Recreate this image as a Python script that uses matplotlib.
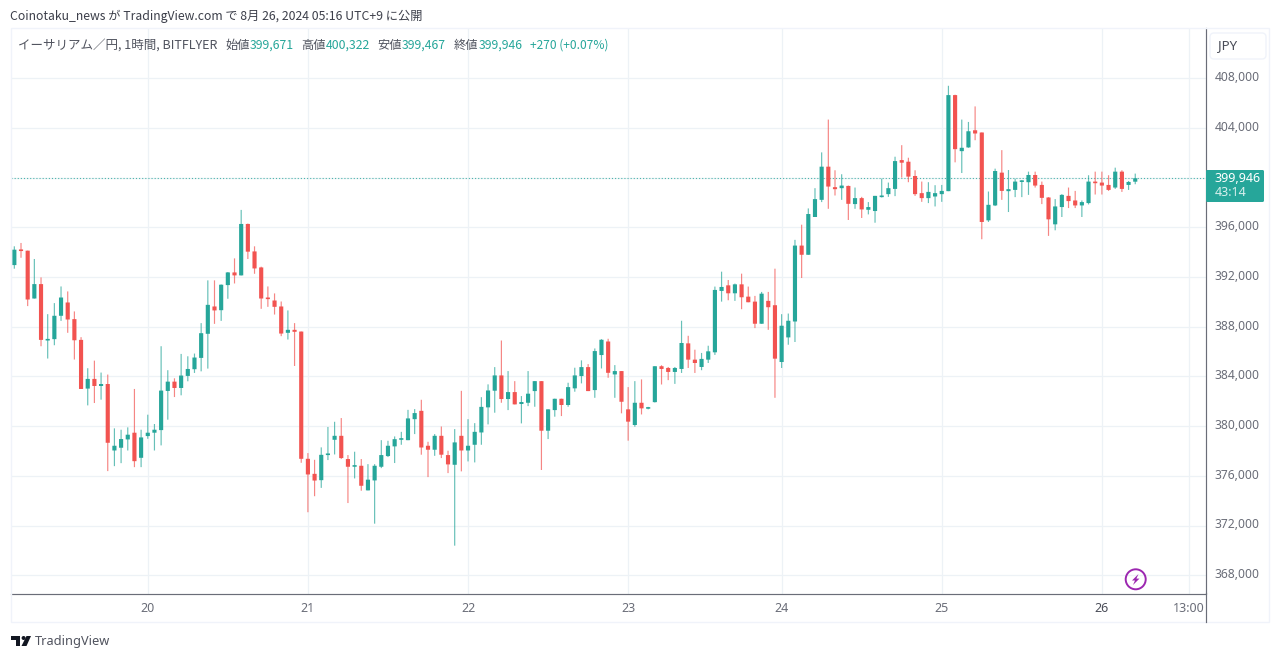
import matplotlib
matplotlib.use('Agg')
import matplotlib.pyplot as plt
import numpy as np
from matplotlib.patches import Circle, FancyBboxPatch, Polygon, Rectangle
from matplotlib.transforms import ScaledTranslation

plt.rcParams['font.family'] = ['Noto Sans CJK JP', 'DejaVu Sans']

# hourly ETH/JPY candles, in thousands of yen
opens = [392.96, 394.20, 394.12, 390.27, 391.43, 386.89, 387.00, 388.88, 389.95, 388.61, 386.94, 383.02,
         383.80, 383.23, 383.39, 378.04, 378.26, 378.93, 379.47, 377.45, 379.20, 379.47, 379.68, 382.83,
         383.58, 383.07, 384.04, 384.58, 385.49, 387.43, 389.63, 389.33, 391.35, 392.37, 392.13, 396.27,
         394.06, 392.77, 390.30, 390.11, 389.63, 387.51, 387.75, 387.61, 377.37, 376.16, 375.65, 377.67,
         378.90, 379.22, 377.35, 376.73, 376.81, 374.83, 375.63, 376.73, 377.59, 378.37, 378.90, 378.87,
         380.56, 381.23, 378.42, 378.10, 379.22, 377.67, 376.89, 379.22, 378.04, 378.50, 379.49, 381.51,
         382.85, 384.08, 382.18, 382.74, 381.78, 381.88, 382.82, 383.62, 379.63, 381.29, 382.20, 381.70,
         383.04, 384.03, 384.75, 382.90, 385.72, 386.81, 384.16, 384.43, 381.35, 380.09, 381.88, 381.40,
         381.93, 384.82, 384.68, 384.36, 384.60, 386.66, 385.35, 384.76, 385.35, 385.94, 390.88, 391.33,
         390.69, 391.41, 390.42, 390.02, 388.24, 390.08, 389.73, 385.16, 387.14, 388.42, 394.53, 393.79,
         396.83, 398.21, 400.88, 399.23, 399.15, 399.33, 397.87, 398.35, 397.41, 397.31, 398.43, 398.67,
         399.09, 401.41, 401.28, 400.13, 398.75, 398.35, 398.48, 398.67, 398.91, 406.64, 402.13, 402.43,
         403.81, 403.63, 396.56, 397.76, 400.40, 398.91, 399.01, 399.65, 399.63, 400.21, 399.41, 398.40,
         396.24, 397.63, 398.53, 398.16, 397.76, 397.95, 399.68, 399.60, 399.41, 399.20, 400.48, 399.41,
         399.671]
highs = [394.47, 394.74, 394.12, 393.45, 391.97, 389.01, 389.90, 391.24, 390.84, 389.23, 387.16, 384.66,
         385.27, 384.31, 384.15, 379.82, 379.71, 379.90, 382.99, 379.71, 380.92, 380.17, 386.43, 384.50,
         383.85, 385.81, 385.62, 385.84, 388.29, 391.73, 391.73, 391.40, 392.40, 393.50, 397.40, 396.30,
         394.47, 392.83, 391.24, 390.68, 390.03, 389.31, 388.29, 387.61, 377.83, 377.29, 378.29, 379.93,
         380.35, 380.65, 377.67, 377.94, 377.35, 376.94, 376.94, 378.87, 378.82, 379.17, 379.54, 381.31,
         381.37, 382.12, 378.74, 379.36, 379.97, 378.02, 379.76, 382.84, 380.56, 380.24, 382.33, 383.36,
         384.75, 386.89, 384.43, 383.62, 382.42, 384.43, 383.62, 383.62, 381.35, 382.21, 382.21, 383.49,
         384.70, 385.29, 384.99, 386.25, 387.00, 387.03, 384.91, 384.43, 383.14, 383.62, 383.76, 381.55,
         384.82, 384.90, 384.76, 384.76, 388.48, 387.27, 386.15, 385.89, 386.47, 391.23, 392.43, 391.76,
         391.47, 392.27, 391.23, 390.48, 390.80, 390.80, 392.67, 389.01, 389.06, 394.99, 396.21, 397.52,
         399.15, 402.03, 404.67, 400.59, 400.27, 399.36, 399.20, 398.45, 398.03, 398.53, 399.92, 399.60,
         401.68, 402.61, 401.60, 400.59, 399.68, 399.63, 399.39, 399.41, 407.39, 406.67, 404.67, 404.48,
         405.73, 403.63, 398.88, 400.72, 402.21, 400.61, 399.92, 399.79, 400.48, 400.48, 399.68, 398.43,
         398.27, 398.67, 399.20, 398.93, 398.16, 400.19, 400.48, 400.48, 400.19, 400.80, 400.59, 399.73,
         400.322]
lows = [392.67, 393.55, 389.66, 390.27, 386.43, 385.44, 386.51, 388.47, 387.51, 385.36, 382.99, 381.67,
        381.86, 382.13, 376.38, 376.78, 377.02, 378.04, 376.70, 376.70, 378.98, 378.04, 378.45, 380.52,
        382.34, 382.48, 383.61, 384.28, 384.41, 384.63, 388.23, 388.47, 390.25, 391.48, 392.13, 393.45,
        392.26, 389.44, 389.60, 388.98, 387.24, 386.97, 384.84, 377.05, 373.07, 374.36, 375.03, 377.27,
        377.72, 377.35, 373.81, 375.79, 374.80, 374.83, 372.15, 376.62, 377.51, 377.03, 378.50, 378.87,
        379.36, 377.70, 375.90, 377.61, 377.43, 376.22, 370.38, 376.36, 377.16, 377.08, 378.50, 380.14,
        381.08, 381.88, 381.29, 381.75, 380.22, 381.61, 381.56, 376.47, 378.96, 380.76, 380.81, 381.56,
        382.77, 383.44, 382.82, 382.28, 384.64, 383.89, 382.28, 381.03, 378.83, 379.95, 380.94, 381.35,
        381.90, 383.35, 383.70, 383.40, 384.28, 384.68, 384.28, 384.50, 385.08, 385.73, 390.02, 390.13,
        390.08, 389.41, 389.97, 387.89, 388.24, 387.75, 382.28, 384.68, 386.55, 386.77, 391.92, 393.79,
        396.83, 398.03, 397.49, 398.56, 398.21, 396.59, 397.49, 396.75, 397.04, 396.37, 398.40, 398.45,
        398.51, 400.00, 399.63, 398.53, 398.05, 397.95, 397.68, 398.05, 398.91, 401.23, 400.37, 402.40,
        403.01, 395.04, 396.43, 397.71, 398.21, 397.23, 398.43, 398.43, 398.61, 399.20, 397.87, 395.31,
        395.76, 396.83, 397.55, 397.55, 396.83, 397.84, 398.64, 398.64, 398.93, 399.09, 398.85, 399.01,
        399.467]
closes = [394.20, 394.09, 390.19, 391.43, 386.94, 387.02, 388.88, 390.35, 388.58, 386.91, 382.99, 383.80,
          383.23, 383.39, 378.66, 378.42, 378.96, 379.31, 377.18, 379.09, 379.47, 379.71, 382.86, 383.58,
          383.07, 384.07, 384.60, 385.52, 387.48, 389.76, 389.31, 391.38, 392.37, 392.13, 396.27, 394.04,
          392.69, 390.27, 390.22, 389.60, 387.45, 387.75, 387.59, 377.37, 376.11, 375.62, 377.69, 377.80,
          379.22, 377.43, 376.73, 376.81, 375.20, 375.69, 376.81, 377.67, 378.42, 378.95, 378.98, 380.62,
          381.05, 378.28, 378.10, 379.22, 377.70, 376.92, 378.69, 378.04, 378.42, 379.54, 381.55, 382.87,
          384.08, 382.18, 382.74, 381.75, 381.94, 382.61, 383.62, 379.63, 381.35, 382.20, 381.70, 383.14,
          384.08, 384.75, 382.82, 386.04, 386.95, 384.29, 384.43, 381.96, 380.36, 381.88, 381.43, 381.51,
          384.82, 384.60, 384.36, 384.68, 386.69, 385.35, 385.08, 385.41, 386.02, 390.96, 391.20, 390.69,
          391.41, 390.37, 389.97, 388.24, 390.66, 389.57, 385.43, 388.08, 388.48, 394.53, 393.79, 397.07,
          398.27, 400.88, 399.28, 399.07, 399.36, 397.89, 398.35, 397.44, 397.63, 398.53, 398.56, 399.15,
          401.33, 401.20, 400.08, 398.67, 398.35, 398.85, 398.75, 398.93, 406.64, 402.29, 402.40, 403.73,
          403.55, 396.43, 397.81, 400.53, 398.93, 399.07, 399.68, 399.73, 400.21, 399.36, 398.37, 396.64,
          397.68, 398.61, 398.11, 397.76, 398.03, 399.68, 399.55, 399.36, 399.01, 400.48, 399.09, 399.65,
          399.946]

price_ticks = [368000, 372000, 376000, 380000, 384000, 388000, 392000, 396000, 400000, 404000, 408000]
time_positions = [20, 44, 68, 92, 115, 139, 163, 176]
time_labels = ['20', '21', '22', '23', '24', '25', '26', '13:00']

GREEN = '#26a69a'
RED = '#f25350'
GRID = '#edf2f6'
FRAME = '#f0f3fa'
AXIS = '#6a6d78'
GREY = '#6a6d78'

opens = np.array(opens) * 1000
highs = np.array(highs) * 1000
lows = np.array(lows) * 1000
closes = np.array(closes) * 1000
xs = np.arange(len(opens))
colors = np.where(closes >= opens, GREEN, RED)

W, H = 1280, 659
fig = plt.figure(figsize=(W / 100, H / 100), dpi=100, facecolor='white')
ax = fig.add_axes([11 / W, 1 - 593.5 / H, 1194.5 / W, 565.5 / H])
ax.set_xlim(-0.5, 178.53)
ax.set_ylim(366530, 412040)

ax.set_axisbelow(True)
ax.grid(True, color=GRID, lw=0.9)
wicks = ax.vlines(xs, lows, highs, colors=colors, lw=0.85, alpha=0.7, zorder=3)
wicks.set_snap(False)
bodies = ax.bar(xs, np.maximum(np.abs(closes - opens), 130), bottom=np.minimum(opens, closes),
                width=0.62, color=colors, lw=0, zorder=4)
for body in bodies:
    body.set_snap(False)
ax.axhline(closes[-1], color=GREEN, lw=0.8, ls=(0, (1, 1.8)), alpha=0.8, zorder=2)

ax.yaxis.tick_right()
ax.set_yticks(price_ticks)
ax.set_yticklabels([f'{p:,}' for p in price_ticks], family='Noto Sans', fontsize=8.7, color=GREY)
ax.set_xticks(time_positions)
ax.set_xticklabels(time_labels, family='Noto Sans', fontsize=9, color=GREY)
ax.tick_params(length=0, axis='y', pad=6.5)
ax.tick_params(length=0, axis='x', pad=6)
ax.get_xticklabels()[6].set_fontweight('bold')
ax.get_xticklabels()[6].set_color('#4a4d58')
lift = ScaledTranslation(0, 1.5 / 72, fig.dpi_scale_trans)
for label in ax.get_yticklabels():
    label.set_transform(label.get_transform() + lift)
for name in ['top', 'left']:
    ax.spines[name].set_visible(False)
for name in ['right', 'bottom']:
    ax.spines[name].set_color(AXIS)
    ax.spines[name].set_linewidth(0.85)

# page furniture in pixel coordinates
page = fig.add_axes([0, 0, 1, 1], zorder=5)
page.set_xlim(0, W)
page.set_ylim(H, 0)
page.axis('off')
page.add_patch(Rectangle((11, 28), 1258, 594, fill=False, ec=FRAME, lw=1.0))
page.plot([1205.5, 1205.5], [593, 622], color=AXIS, lw=0.85)

page.text(10, 16, 'Coinotaku_news が TradingView.com で 8月 26, 2024 05:16 UTC+9 に公開',
          fontsize=8.8, color='#3c3f4a', va='center')
page.text(18, 45, 'イーサリアム／円, 1時間, BITFLYER', fontsize=9.0, color='#50535e', va='center')
legend = [('始値', '399,671', 225), ('高値', '400,322', 301), ('安値', '399,467', 377), ('終値', '399,946', 454)]
for name, value, x in legend:
    page.text(x, 45, name, fontsize=8.8, color='#50535e', va='center')
    page.text(x + 25, 45, value, fontsize=8.8, color=GREEN, va='center')
page.text(530, 45, '+270 (+0.07%)', fontsize=8.6, color=GREEN, va='center')

page.add_patch(FancyBboxPatch((1210, 33), 56, 26, boxstyle='round,pad=0,rounding_size=4',
                              fc='white', ec=FRAME, lw=1.0))
page.text(1218, 45.5, 'JPY', family='Noto Sans', fontsize=9.6, color='#4a4d58', va='center')

page.add_patch(FancyBboxPatch((1206, 170), 58, 32, boxstyle='round,pad=0,rounding_size=1.5',
                              fc=GREEN, ec='none'))
page.text(1237.5, 178, '399,946', family='Noto Sans', fontsize=9, fontweight='bold', color='white',
          ha='center', va='center')
page.text(1231, 193, '43:14', family='Noto Sans', fontsize=9, color='#d8f0ed', ha='center', va='center')

# lightning badge
page.add_patch(Circle((1135.7, 579.3), 10, fill=False, ec='#9c27b0', lw=1.4))
page.add_patch(Polygon([(1138.5, 574), (1132, 580.5), (1135, 580.5), (1133, 585),
                        (1139.5, 578.6), (1136.4, 578.6)], fc='#9c27b0', ec='none'))

# TradingView mark
page.add_patch(Polygon([(11, 636), (20, 636), (20, 646), (15.5, 646), (15.5, 640), (11, 640)],
                       fc='#131722', ec='none'))
page.add_patch(Circle((23.6, 638), 2, fc='#131722', ec='none'))
page.add_patch(Polygon([(26.5, 636), (31, 636), (26.5, 646), (21.5, 646)], fc='#131722', ec='none'))
page.text(35, 641, 'TradingView', family='Noto Sans', fontsize=9.2, color='#50535e', va='center')

fig.savefig('out.png', dpi=100)
